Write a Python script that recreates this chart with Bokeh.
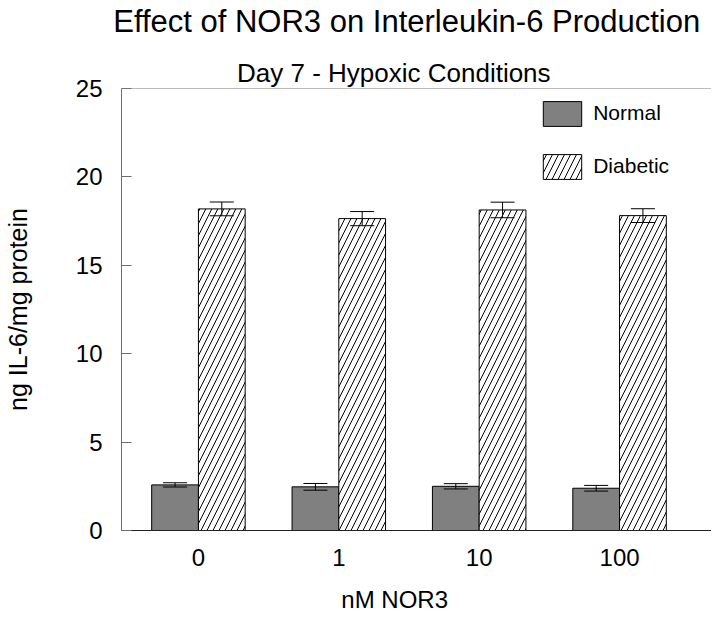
from bokeh.plotting import figure
from bokeh.models import (Range1d, FixedTicker, Whisker, TeeHead, ColumnDataSource,
                          Legend, LegendItem, Title, Span, LinearAxis)
from bokeh.embed import file_html
from bokeh.resources import INLINE
import numpy as np

# ---- data ----
doses = ["0", "1", "10", "100"]
normal = [2.58, 2.47, 2.50, 2.39]
normal_err = [0.12, 0.19, 0.15, 0.16]
diabetic = [18.19, 17.64, 18.13, 17.81]
diabetic_err = [0.39, 0.40, 0.44, 0.39]
y_ticks = [0, 5, 10, 15, 20, 25]
title_text = "Effect of NOR3 on Interleukin-6 Production"
subtitle_text = "Day 7 - Hypoxic Conditions"
xlabel_text = "nM NOR3"
ylabel_text = "ng IL-6/mg protein"

FONT = "Liberation Sans"
y_max = 25
bar_w = 0.333
idx = np.arange(len(doses))

p = figure(width=711, height=619, output_backend="svg", toolbar_location=None,
           title_location=None,
           x_range=Range1d(-0.548, 3.655), y_range=Range1d(0, y_max),
           min_border_left=118, min_border_right=0, min_border_top=88,
           min_border_bottom=89)
p.xgrid.visible = False
p.ygrid.visible = False
p.outline_line_color = None
p.background_fill_color = "white"

src_n = ColumnDataSource(dict(x=idx - bar_w / 2, top=normal,
                              upper=np.array(normal) + np.array(normal_err),
                              lower=np.array(normal) - np.array(normal_err)))
src_d = ColumnDataSource(dict(x=idx + bar_w / 2, top=diabetic,
                              upper=np.array(diabetic) + np.array(diabetic_err),
                              lower=np.array(diabetic) - np.array(diabetic_err)))

r_n = p.vbar(x="x", top="top", width=bar_w, bottom=0, source=src_n,
             fill_color="#808080", line_color="black", line_width=1)
r_d = p.vbar(x="x", top="top", width=bar_w, bottom=0, source=src_d,
             fill_color="white", line_color="black", line_width=1,
             hatch_pattern="/", hatch_color="black", hatch_scale=12, hatch_weight=1)

for src in (src_n, src_d):
    w = Whisker(source=src, base="x", upper="upper", lower="lower",
                line_color="black", line_width=1, level="overlay",
                upper_head=TeeHead(size=24, line_color="black", line_width=1),
                lower_head=TeeHead(size=24, line_color="black", line_width=1))
    p.add_layout(w)

# top frame line
p.add_layout(Span(location=y_max, dimension="width", line_color="#7a7a7a", line_width=1))

# y axis
ya = p.yaxis[0]
ya.ticker = FixedTicker(ticks=y_ticks)
ya.major_tick_in = 10
ya.major_tick_out = 0
ya.minor_tick_in = 0
ya.minor_tick_out = 0
ya.minor_tick_line_color = None
ya.axis_line_color = "#6e6e6e"
ya.major_tick_line_color = "#6e6e6e"
ya.major_label_text_font = FONT
ya.major_label_text_font_size = "24px"
ya.major_label_text_color = "black"
ya.major_label_standoff = 19
ya.axis_label = ylabel_text
ya.axis_label_text_font = FONT
ya.axis_label_text_font_size = "25px"
ya.axis_label_text_font_style = "normal"
ya.axis_label_text_color = "black"
ya.axis_label_standoff = 41

# x axis
xa = p.xaxis[0]
xa.ticker = FixedTicker(ticks=list(idx))
xa.major_label_overrides = {int(i): d for i, d in zip(idx, doses)}
xa.major_tick_line_color = None
xa.major_tick_in = 0
xa.major_tick_out = 0
xa.minor_tick_line_color = None
xa.minor_tick_in = 0
xa.minor_tick_out = 0
xa.axis_line_color = "#222222"
xa.major_label_text_font = FONT
xa.major_label_text_font_size = "24px"
xa.major_label_text_color = "black"
xa.major_label_standoff = 18


def spacer(gap):
    # an invisible axis (no line, no visible tick, empty label) that only reserves space
    return LinearAxis(ticker=FixedTicker(ticks=[1]), major_label_overrides={1: ""},
                      major_tick_out=gap, major_tick_in=0,
                      minor_tick_out=0, minor_tick_in=0,
                      major_label_standoff=0, major_label_text_font_size="1px",
                      axis_line_color=None, major_tick_line_color=None,
                      minor_tick_line_color=None)


# x label below (after a spacer)
p.add_layout(spacer(15), "below")
p.add_layout(Title(text=xlabel_text, align="left", offset=219.8, standoff=0,
                   vertical_align="bottom", text_font=FONT, text_font_size="24px",
                   text_font_style="normal", text_color="black"), "below")

# titles above: subtitle nearest the frame, then spacer, then main title
p.add_layout(Title(text=subtitle_text, align="left", offset=115.5, standoff=2,
                   vertical_align="bottom", text_font=FONT, text_font_size="26px",
                   text_font_style="normal", text_color="black"), "above")
p.add_layout(spacer(16), "above")
p.add_layout(Title(text=title_text, align="left", offset=-8.3, standoff=0,
                   vertical_align="bottom", text_font=FONT, text_font_size="31px",
                   text_font_style="normal", text_color="black"), "above")

# legend
legend = Legend(items=[LegendItem(label="Normal", renderers=[r_n]),
                       LegendItem(label="Diabetic", renderers=[r_d])],
                location=(417.2, 348.1), orientation="vertical",
                glyph_width=48, glyph_height=31, label_height=31,
                label_standoff=7, spacing=22, padding=0, margin=0,
                label_text_font=FONT, label_text_font_size="21px",
                label_text_color="black",
                border_line_color=None, background_fill_alpha=0)
p.add_layout(legend)

open("out.html", "w").write(file_html(p, INLINE))
